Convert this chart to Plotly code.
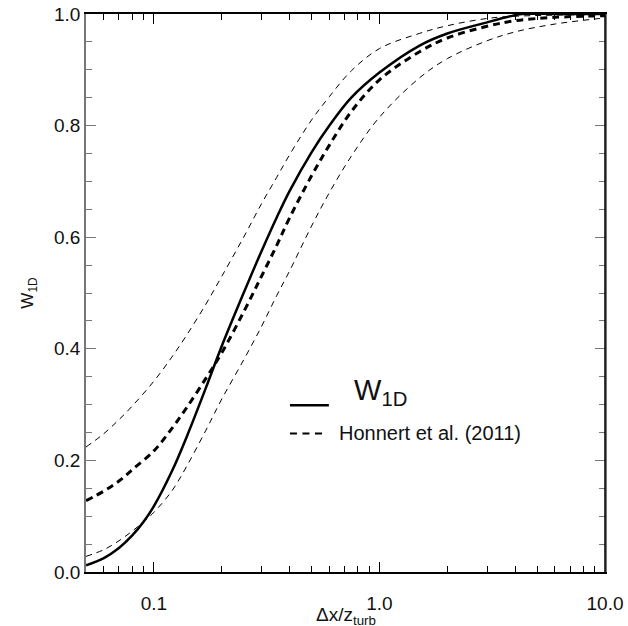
import plotly.graph_objects as go

# W1D (solid thick)
w1d_x = [0.05, 0.06, 0.07, 0.08, 0.09, 0.1, 0.12, 0.14, 0.17, 0.2, 0.25, 0.3, 0.35, 0.4,
         0.5, 0.6, 0.75, 1.0, 1.5, 2.0, 3.0, 4.0, 4.3, 6.0, 10.0]
w1d_y = [0.012, 0.025, 0.043, 0.065, 0.09, 0.118, 0.18, 0.243, 0.33, 0.405, 0.50, 0.575,
         0.635, 0.683, 0.752, 0.80, 0.85, 0.895, 0.943, 0.965, 0.985, 0.998, 1.0, 1.0, 1.0]

# Honnert et al. (2011) (thick dashed)
hon_x = [0.05, 0.06, 0.07, 0.08, 0.1, 0.12, 0.14, 0.17, 0.2, 0.25, 0.3, 0.35, 0.4,
         0.5, 0.6, 0.75, 1.0, 1.5, 2.0, 3.0, 4.0, 6.0, 10.0]
hon_y = [0.128, 0.145, 0.163, 0.183, 0.217, 0.257, 0.295, 0.347, 0.393, 0.466, 0.53, 0.585,
         0.635, 0.71, 0.765, 0.825, 0.882, 0.932, 0.957, 0.978, 0.988, 0.994, 0.997]

# upper / lower envelopes (thin dashed)
up_x = [0.05, 0.06, 0.07, 0.08, 0.1, 0.12, 0.14, 0.17, 0.2, 0.25, 0.3, 0.35, 0.4,
        0.5, 0.6, 0.75, 1.0, 1.5, 2.0, 3.0, 4.0, 10.0]
up_y = [0.224, 0.248, 0.273, 0.297, 0.342, 0.385, 0.425, 0.48, 0.53, 0.60, 0.66, 0.707,
        0.748, 0.81, 0.852, 0.898, 0.938, 0.965, 0.979, 0.992, 0.996, 0.999]

lo_x = [0.05, 0.06, 0.07, 0.08, 0.09, 0.1, 0.12, 0.14, 0.17, 0.2, 0.25, 0.3, 0.35, 0.4,
        0.5, 0.6, 0.75, 1.0, 1.5, 2.0, 3.0, 4.0, 6.0, 10.0]
lo_y = [0.028, 0.04, 0.056, 0.073, 0.09, 0.107, 0.145, 0.19, 0.254, 0.31, 0.38, 0.44,
        0.495, 0.54, 0.62, 0.68, 0.745, 0.815, 0.885, 0.92, 0.952, 0.968, 0.982, 0.993]

x_major = [0.1, 1, 10]
x_major_text = ["0.1", "1.0", "10.0"]
x_minor = [0.06, 0.07, 0.08, 0.09, 0.2, 0.3, 0.4, 0.5, 0.6, 0.7, 0.8, 0.9,
           2, 3, 4, 5, 6, 7, 8, 9]

FONT = "Liberation Sans, Arial, sans-serif"
INK = "#111"

fig = go.Figure()

thin = dict(color="black", width=1, dash="6px,5px", shape="spline")
fig.add_trace(go.Scatter(x=up_x, y=up_y, mode="lines", line=thin))
fig.add_trace(go.Scatter(x=lo_x, y=lo_y, mode="lines", line=thin))
fig.add_trace(go.Scatter(x=hon_x, y=hon_y, mode="lines",
                         line=dict(color="black", width=3, dash="7px,5px", shape="spline")))
fig.add_trace(go.Scatter(x=w1d_x, y=w1d_y, mode="lines",
                         line=dict(color="black", width=2.5, shape="spline")))

# legend drawn by hand
fig.add_shape(type="line", xref="paper", yref="paper", x0=0.393, x1=0.468, y0=0.299, y1=0.299,
              line=dict(color="black", width=2.5))
fig.add_shape(type="line", xref="paper", yref="paper", x0=0.393, x1=0.455, y0=0.248, y1=0.248,
              line=dict(color="black", width=2, dash="7px,5.5px"))
fig.add_annotation(xref="paper", yref="paper", x=0.512, y=0.322, xanchor="left", yanchor="middle",
                   text="W<sub>1D</sub>", showarrow=False, font=dict(size=29, family=FONT, color=INK))
fig.add_annotation(xref="paper", yref="paper", x=0.484, y=0.249, xanchor="left", yanchor="middle",
                   text="Honnert et al. (2011)", showarrow=False, font=dict(size=20, family=FONT, color=INK))

# x title sits low, its subscript running into the page edge as in the original
fig.add_annotation(xref="paper", yref="paper", x=0.5, y=0, yshift=-30, xanchor="center", yanchor="top",
                   text="Δx/z<sub>turb</sub>", showarrow=False, font=dict(size=19, family=FONT, color=INK))

# black right border over the gray mirrored axis line
fig.add_shape(type="line", xref="paper", yref="paper", x0=1, x1=1, y0=0, y1=1,
              line=dict(color="black", width=1.5))

fig.update_layout(
    width=628, height=626,
    margin=dict(l=86, r=23, t=14, b=54),
    paper_bgcolor="white", plot_bgcolor="white",
    showlegend=False,
    font=dict(family=FONT, size=19, color=INK),
    xaxis=dict(
        type="log", range=[-1.30103, 1.0], automargin=False,
        tickvals=x_major, ticktext=x_major_text,
        ticks="inside", ticklen=10, tickcolor="black", tickwidth=1,
        ticklabelstandoff=13,
        showline=True, linecolor="black", linewidth=1.5, mirror="ticks",
        showgrid=False, zeroline=False,
        minor=dict(tickvals=x_minor, ticks="inside", ticklen=6, tickcolor="black", showgrid=False),
    ),
    yaxis=dict(
        range=[0, 1], dtick=0.2, tickformat=".1f", automargin=False,
        ticks="inside", ticklen=10, tickcolor="#777", tickwidth=1,
        showline=True, linecolor="#777", linewidth=1.5, mirror="ticks",
        showgrid=False, zeroline=False,
        minor=dict(dtick=0.05, ticks="inside", ticklen=6, tickcolor="#777", showgrid=False),
        title=dict(text="W<sub>1D</sub>", standoff=16, font=dict(size=17)),
    ),
)

# the page's default body margin would shift the fixed-size figure by 8px
fig.write_html("out.html", config={"displayModeBar": False},
               post_script="document.body.style.margin='0px';")
